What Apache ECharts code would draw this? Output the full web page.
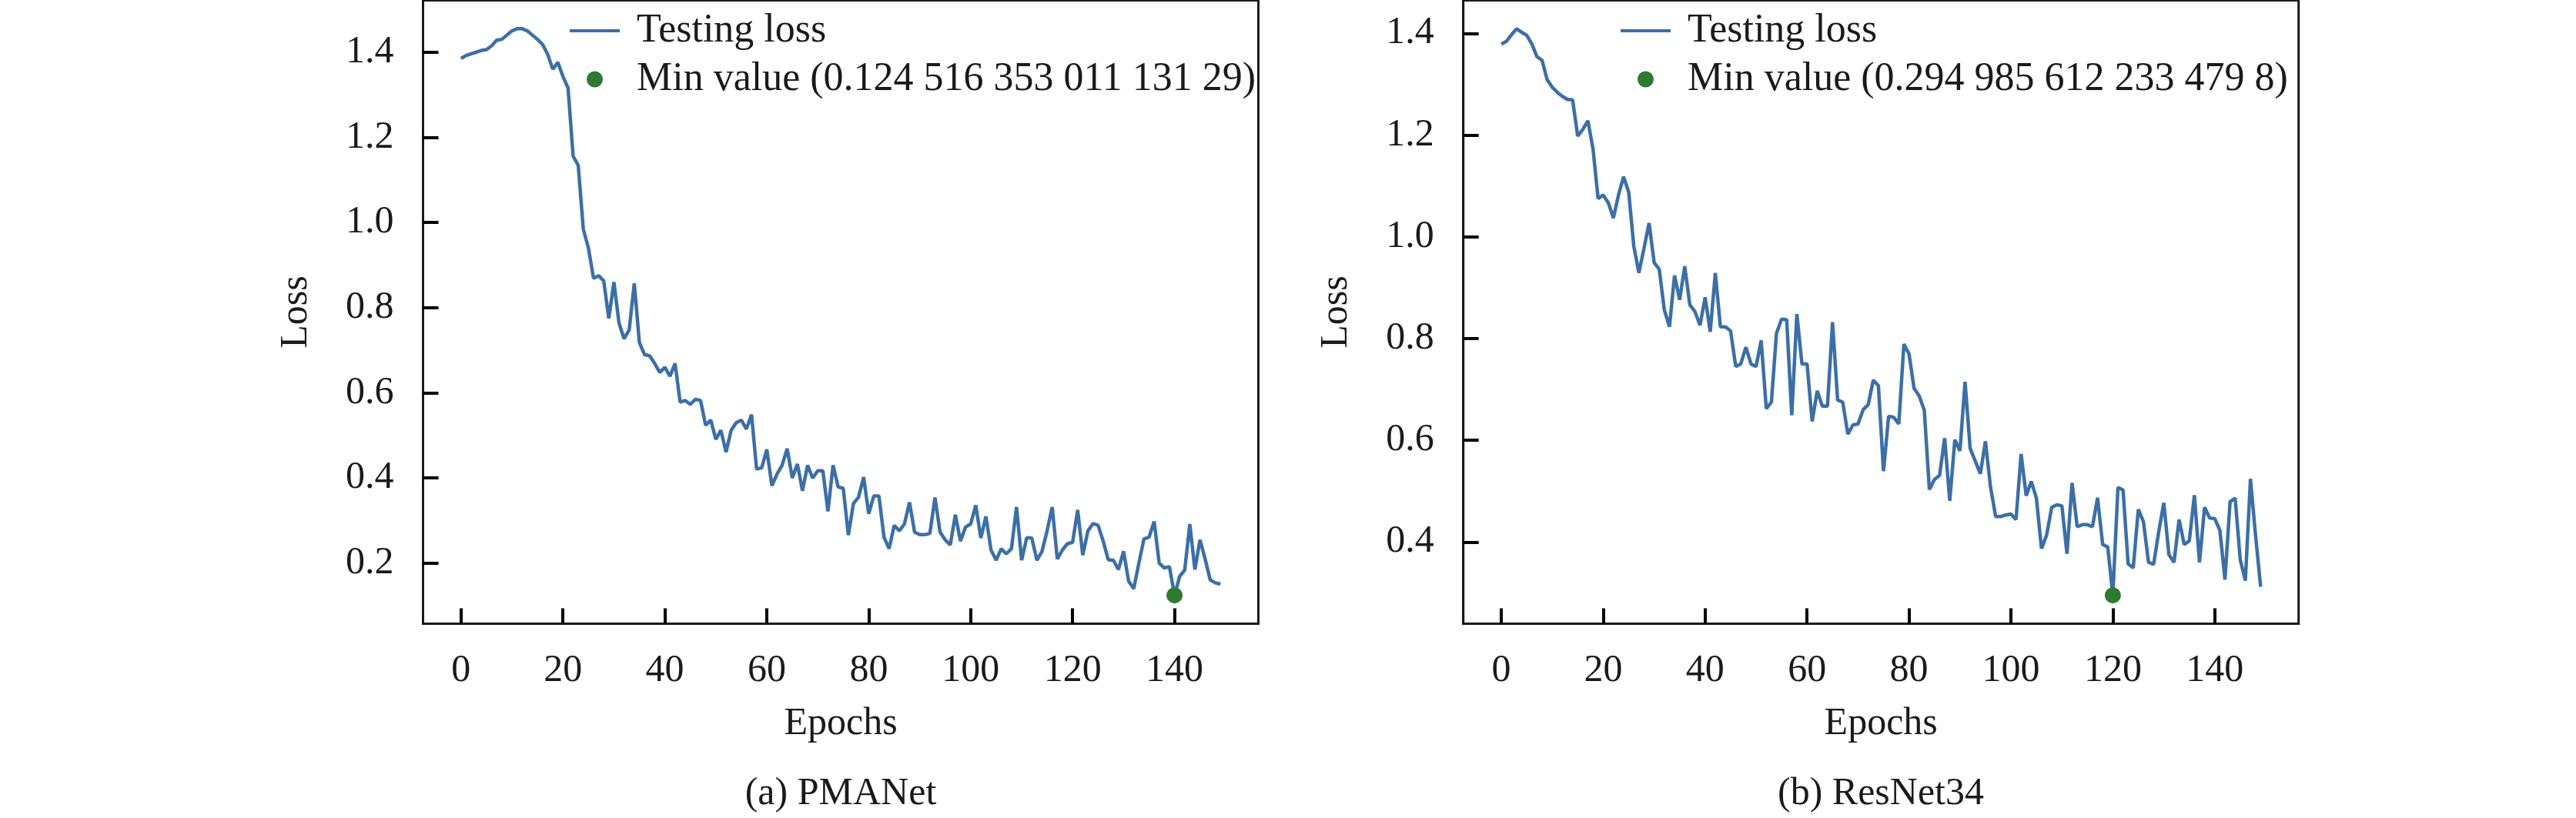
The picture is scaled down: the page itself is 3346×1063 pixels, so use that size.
<!DOCTYPE html>
<html>
<head>
<meta charset="utf-8">
<title>Testing loss</title>
<script src="https://cdn.jsdelivr.net/npm/echarts@6/dist/echarts.min.js"></script>
<style>
  html, body { margin: 0; padding: 0; background: #fff; }
  #chart { width: 3346px; height: 1063px; }
</style>
</head>
<body>
<div id="chart"></div>
<script>
// test loss per epoch
var pmaLoss = [1.385,1.392,1.396,1.400,1.404,1.406,1.415,1.428,1.430,1.440,
  1.450,1.455,1.455,1.450,1.440,1.430,1.418,1.395,1.360,1.376,
  1.343,1.316,1.156,1.134,0.984,0.940,0.869,0.875,0.863,0.775,
  0.860,0.764,0.727,0.748,0.857,0.718,0.690,0.687,0.669,0.648,
  0.660,0.639,0.669,0.578,0.582,0.573,0.585,0.582,0.524,0.536,
  0.491,0.512,0.461,0.512,0.530,0.536,0.515,0.549,0.421,0.424,
  0.467,0.382,0.409,0.430,0.469,0.400,0.433,0.370,0.430,0.400,
  0.417,0.417,0.322,0.430,0.379,0.376,0.266,0.340,0.355,0.402,
  0.316,0.358,0.358,0.261,0.234,0.289,0.276,0.292,0.343,0.273,
  0.267,0.267,0.270,0.354,0.273,0.255,0.243,0.314,0.252,0.285,
  0.292,0.336,0.259,0.310,0.231,0.207,0.234,0.222,0.234,0.332,
  0.207,0.260,0.259,0.207,0.228,0.276,0.332,0.210,0.231,0.246,
  0.249,0.325,0.219,0.276,0.293,0.289,0.252,0.208,0.207,0.185,
  0.228,0.158,0.140,0.200,0.257,0.261,0.298,0.200,0.189,0.192,
  0.1245,0.169,0.184,0.292,0.185,0.255,0.210,0.161,0.154,0.151];

var resLoss = [1.379,1.384,1.397,1.409,1.402,1.396,1.379,1.354,1.347,1.309,
  1.294,1.284,1.276,1.270,1.269,1.198,1.211,1.228,1.173,1.075,
  1.082,1.067,1.037,1.082,1.118,1.088,0.982,0.929,0.977,1.027,
  0.949,0.936,0.856,0.823,0.924,0.876,0.942,0.866,0.853,0.826,
  0.881,0.813,0.929,0.823,0.823,0.815,0.745,0.750,0.783,0.750,
  0.745,0.796,0.662,0.675,0.810,0.838,0.837,0.649,0.848,0.750,
  0.750,0.637,0.697,0.667,0.667,0.832,0.679,0.675,0.612,0.630,
  0.632,0.660,0.670,0.718,0.707,0.539,0.647,0.645,0.632,0.789,
  0.770,0.702,0.687,0.659,0.503,0.523,0.531,0.604,0.481,0.601,
  0.579,0.715,0.584,0.559,0.534,0.598,0.508,0.450,0.450,0.453,
  0.455,0.444,0.573,0.491,0.519,0.486,0.387,0.413,0.468,0.473,
  0.471,0.377,0.516,0.430,0.434,0.434,0.430,0.487,0.395,0.390,
  0.295,0.507,0.502,0.357,0.349,0.464,0.440,0.360,0.356,0.420,
  0.477,0.375,0.360,0.444,0.395,0.402,0.492,0.360,0.468,0.447,
  0.446,0.423,0.326,0.479,0.486,0.365,0.324,0.524,0.413,0.312];

var pmaMin = [140, 0.12451635301113129];
var resMin = [120, 0.2949856122334798];

// axis ranges (5% margins round the data) and tick step
var xRange = [-7.45, 156.45];
var xStep = 20;
var pmaRange = [0.058, 1.5215];
var resRange = [0.2393, 1.4647];
var yStep = 0.2;

var lossName = 'Testing loss';
var pmaMinName = 'Min value (0.124 516 353 011 131 29)';
var resMinName = 'Min value (0.294 985 612 233 479 8)';
var captions = ['(a) PMANet', '(b) ResNet34'];

var FONT = "'Liberation Serif', 'Times New Roman', serif";
var FS = 50;
var INK = '#1a1a1a';
var BLUE = '#3c6fa6';
var GREEN = '#2d7a30';

function toPoints(values) {
  return values.map(function (v, i) { return [i, v]; });
}

// splitNumber so that the nice interval comes out as the wanted step
function splits(range, step) {
  return Math.round((range[1] - range[0]) / step);
}

// one subplot: grid + axes + series + legend
function panel(idx, left, yRange, loss, minPt, minName, legendLeft) {
  var grid = {
    left: left, top: 0.5, width: 1085, height: 810,
    show: true, borderColor: INK, borderWidth: 3
  };
  var tickStyle = { color: '#000000', width: 4 };
  var xAxis = {
    type: 'value', gridIndex: idx, min: xRange[0], max: xRange[1],
    splitNumber: splits(xRange, xStep),
    name: 'Epochs', nameLocation: 'middle', nameGap: 105,
    nameTextStyle: { fontFamily: FONT, fontSize: FS, color: INK },
    axisLine: { show: true, onZero: false, lineStyle: { color: INK, width: 3 } },
    axisTick: { show: true, inside: true, length: 20, lineStyle: tickStyle },
    axisLabel: { showMinLabel: false, showMaxLabel: false, margin: 36,
      fontFamily: FONT, fontSize: FS, color: INK },
    splitLine: { show: false }
  };
  var yAxis = {
    type: 'value', gridIndex: idx, min: yRange[0], max: yRange[1],
    splitNumber: splits(yRange, yStep),
    name: 'Loss', nameLocation: 'middle', nameGap: 140, nameRotate: 90,
    nameTextStyle: { fontFamily: FONT, fontSize: FS, color: INK },
    axisLine: { show: true, onZero: false, lineStyle: { color: INK, width: 3 } },
    axisTick: { show: true, inside: true, length: 20, lineStyle: tickStyle },
    axisLabel: { showMinLabel: false, showMaxLabel: false, margin: 38,
      fontFamily: FONT, fontSize: FS, color: INK,
      formatter: function (v) { return v.toFixed(1); } },
    splitLine: { show: false }
  };
  var series = [
    {
      name: lossName, type: 'line', xAxisIndex: idx, yAxisIndex: idx,
      data: toPoints(loss), showSymbol: false, symbol: 'none',
      lineStyle: { color: BLUE, width: 4.5 }, itemStyle: { color: BLUE }
    },
    {
      name: minName, type: 'scatter', xAxisIndex: idx, yAxisIndex: idx,
      data: [minPt], symbol: 'circle', symbolSize: 21,
      itemStyle: { color: GREEN, opacity: 1 }, z: 3
    }
  ];
  var legend = {
    left: legendLeft, top: 14, orient: 'vertical', padding: 0,
    itemWidth: 65, itemHeight: 21, itemGap: 11,
    selectedMode: false,
    textStyle: { fontFamily: FONT, fontSize: 52, lineHeight: 52, color: INK, padding: [0, 0, 0, 17] },
    data: [
      { name: lossName, icon: 'path://M0,0 L65,0 L65,4 L0,4 Z', itemStyle: { color: BLUE } },
      { name: minName, icon: 'circle', itemStyle: { color: GREEN } }
    ]
  };
  return { grid: grid, xAxis: xAxis, yAxis: yAxis, series: series, legend: legend };
}

var a = panel(0, 549.5, pmaRange, pmaLoss, pmaMin, pmaMinName, 740);
var b = panel(1, 1900.7, resRange, resLoss, resMin, resMinName, 2105);

var chart = echarts.init(document.getElementById('chart'));
chart.setOption({
  animation: false,
  grid: [a.grid, b.grid],
  xAxis: [a.xAxis, b.xAxis],
  yAxis: [a.yAxis, b.yAxis],
  legend: [a.legend, b.legend],
  series: a.series.concat(b.series),
  graphic: [
    { type: 'text', x: 1092, y: 1032,
      style: { text: captions[0], fill: INK, font: FS + 'px ' + FONT, textAlign: 'center', textVerticalAlign: 'middle' } },
    { type: 'text', x: 2443, y: 1032,
      style: { text: captions[1], fill: INK, font: FS + 'px ' + FONT, textAlign: 'center', textVerticalAlign: 'middle' } }
  ]
});
</script>
</body>
</html>
